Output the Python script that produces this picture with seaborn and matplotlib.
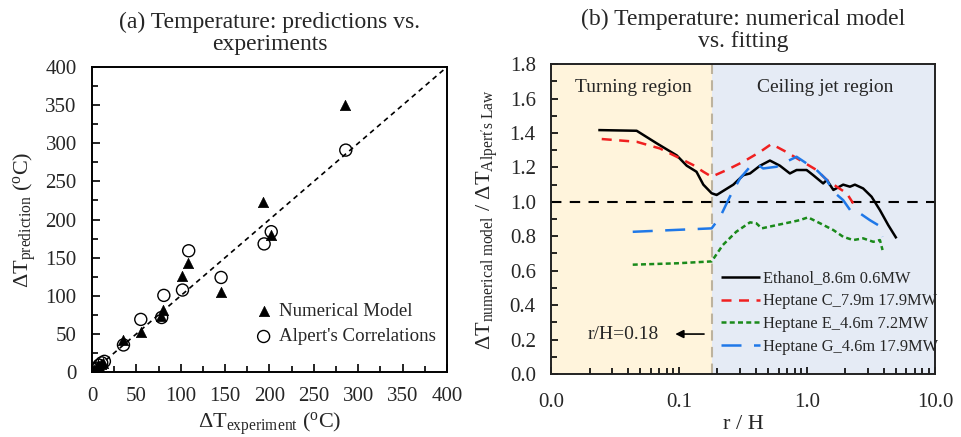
import numpy as np
import pandas as pd
import matplotlib
matplotlib.use("Agg")
import matplotlib.pyplot as plt
import seaborn as sns
from matplotlib.ticker import MultipleLocator, FixedLocator, NullFormatter, LogLocator

# ---- (a) predictions vs experiments ----
num_exp = [2, 4, 6, 8, 10, 12, 34.5, 55, 78, 80.5, 101.5, 108, 145.5, 193, 202, 285]
num_pred = [2, 4, 6, 8, 10, 12, 42, 53, 74, 81, 126, 142.5, 105, 223, 179.5, 350]
alp_exp = [3, 5, 8, 11, 14, 35.5, 55, 78.5, 81, 102, 109, 145.5, 194, 202, 286]
alp_pred = [3, 5, 9, 12, 14, 35.5, 69, 71.5, 100.5, 107.5, 159, 124, 168, 184, 291]

# ---- (b) numerical model vs fitting ----
eth_r = [0.0234, 0.0467, 0.067, 0.096, 0.115, 0.137, 0.155, 0.18, 0.197, 0.266, 0.318,
         0.359, 0.43, 0.514, 0.615, 0.736, 0.83, 0.995, 1.12, 1.34, 1.43, 1.61, 1.92,
         2.17, 2.37, 2.75, 3.2, 3.72, 4.32, 5.01]
eth_v = [1.417, 1.413, 1.34, 1.27, 1.21, 1.175, 1.10, 1.05, 1.04, 1.10, 1.155,
         1.165, 1.21, 1.24, 1.21, 1.165, 1.185, 1.185, 1.155, 1.107, 1.127, 1.069, 1.10,
         1.088, 1.10, 1.078, 1.03, 0.952, 0.865, 0.788]
hc_r = [0.0249, 0.0467, 0.071, 0.096, 0.129, 0.155, 0.18, 0.236, 0.318, 0.43, 0.528,
        0.69, 0.88, 1.19, 1.43, 1.71, 2.05, 2.30]
hc_v = [1.365, 1.349, 1.31, 1.262, 1.214, 1.175, 1.146, 1.185, 1.233, 1.29, 1.336,
        1.29, 1.243, 1.185, 1.127, 1.088, 1.049, 0.991]
he_r = [0.0435, 0.096, 0.18, 0.22, 0.28, 0.359, 0.403, 0.443, 0.58, 0.78, 0.88, 1.02,
        1.27, 1.61, 1.92, 2.30, 2.75, 3.30, 3.72, 3.9]
he_v = [0.635, 0.643, 0.654, 0.749, 0.826, 0.881, 0.875, 0.846, 0.865, 0.885, 0.894, 0.91,
        0.875, 0.836, 0.797, 0.778, 0.788, 0.768, 0.778, 0.72]
hg_r = [0.0435, 0.18, 0.21, 0.25, 0.30, 0.359, 0.403, 0.455, 0.58, 0.69, 0.83, 0.995,
        1.19, 1.43, 1.61, 1.92, 2.22, 2.60, 3.10, 3.60, 3.9]
hg_v = [0.826, 0.846, 0.913, 1.03, 1.136, 1.204, 1.223, 1.194, 1.204, 1.233, 1.262, 1.223,
        1.185, 1.127, 1.059, 1.01, 0.943, 0.933, 0.894, 0.865, 0.797]

series_names = ["Ethanol_8.6m 0.6MW", "Heptane C_7.9m 17.9MW",
                "Heptane E_4.6m 7.2MW", "Heptane G_4.6m 17.9MW"]
series_colors = ["black", "#f02020", "#1a8a1a", "#1f78e8"]
series_dashes = [(1, 0), (4, 3), (2, 1.3), (8, 5)]

sns.set_theme(style="white")
plt.rcParams["font.family"] = ["Liberation Serif", "DejaVu Serif"]
plt.rcParams["mathtext.fontset"] = "custom"
plt.rcParams["mathtext.rm"] = "Liberation Serif"
plt.rcParams["mathtext.it"] = "Liberation Serif:italic"

fig = plt.figure(figsize=(9.62, 4.37), dpi=100)
ax1 = fig.add_axes([0.0956, 0.1487, 0.369, 0.698])
ax2 = fig.add_axes([0.5728, 0.1442, 0.399, 0.709])

# panel (a)
df_a = pd.concat([
    pd.DataFrame({"exp": num_exp, "pred": num_pred, "src": "Numerical Model"}),
    pd.DataFrame({"exp": alp_exp, "pred": alp_pred, "src": "Alpert's Correlations"}),
])
ax1.plot([0, 400], [0, 400], color="black", lw=1.2, dashes=(3, 2.5), zorder=1)
sns.scatterplot(data=df_a[df_a.src == "Numerical Model"], x="exp", y="pred", ax=ax1,
                marker="^", s=55, color="black", edgecolor="black", linewidth=0.5,
                label="Numerical Model", zorder=3)
sns.scatterplot(data=df_a[df_a.src == "Alpert's Correlations"], x="exp", y="pred", ax=ax1,
                marker="o", s=75, facecolor="none", edgecolor="black", linewidth=1.0,
                label="Alpert's Correlations", zorder=3)
ax1.set_xlim(0, 400)
ax1.set_ylim(0, 400)
ax1.xaxis.set_major_locator(MultipleLocator(50))
ax1.yaxis.set_major_locator(MultipleLocator(50))
ax1.xaxis.set_minor_locator(MultipleLocator(25))
ax1.yaxis.set_minor_locator(MultipleLocator(25))
ax1.tick_params(which="both", direction="in", color="black", labelsize=15,
                bottom=True, left=True, top=False, right=False, pad=11)
ax1.tick_params(which="major", length=6, width=1.2)
ax1.tick_params(which="minor", length=4, width=1.2)
ax1.set_xlabel(r"$\Delta$T$_{\rm experiment}$ ($^{\rm o}$C)", fontsize=16, labelpad=3)
ax1.set_ylabel(r"$\Delta$T$_{\rm prediction}$ ($^{\rm o}$C)", fontsize=16, labelpad=5)
for sp in ax1.spines.values():
    sp.set_color("black")
    sp.set_linewidth(1.4)
ax1.legend(loc="lower right", bbox_to_anchor=(1.0, 0.05), frameon=False, fontsize=13.6,
           handletextpad=-0.2, labelspacing=0.45, borderaxespad=0.2)
ax1.set_title("(a) Temperature: predictions vs.\nexperiments", fontsize=17,
              linespacing=1.1, pad=12)

# panel (b)
rows = []
for name, r, v in zip(series_names, [eth_r, hc_r, he_r, hg_r], [eth_v, hc_v, he_v, hg_v]):
    rows.append(pd.DataFrame({"r": r, "v": v, "case": name}))
df_b = pd.concat(rows, ignore_index=True)

ax2.set_xscale("log")
ax2.axvspan(0.01, 0.18, color="#FFF4DC", zorder=0, lw=0)
ax2.axvspan(0.18, 10, color="#E5EBF5", zorder=0, lw=0)
ax2.axvline(0.18, color="#BDB39E", lw=1.5, dashes=(5, 3), zorder=1)
ax2.axhline(1.0, color="black", lw=1.5, dashes=(5, 4), zorder=2)
sns.lineplot(data=df_b, x="r", y="v", hue="case", style="case", ax=ax2,
             hue_order=series_names, style_order=series_names,
             palette=dict(zip(series_names, series_colors)),
             dashes=dict(zip(series_names, series_dashes)),
             sort=False, estimator=None, lw=1.8, zorder=3)
ax2.set_xlim(0.01, 10)
ax2.set_ylim(0, 1.8)
ax2.xaxis.set_major_locator(FixedLocator([0.01, 0.1, 1, 10]))
ax2.set_xticklabels(["0.0", "0.1", "1.0", "10.0"])
ax2.xaxis.set_minor_locator(LogLocator(base=10, subs=np.arange(2, 10)))
ax2.xaxis.set_minor_formatter(NullFormatter())
ax2.yaxis.set_major_locator(MultipleLocator(0.2))
ax2.yaxis.set_minor_locator(MultipleLocator(0.1))
ax2.yaxis.set_major_formatter(matplotlib.ticker.FormatStrFormatter("%.1f"))
ax2.tick_params(which="both", direction="in", color="black", labelsize=15,
                bottom=True, left=True, top=False, right=False, pad=11)
ax2.tick_params(axis="x", pad=14)
ax2.tick_params(which="major", length=5, width=1.2)
ax2.tick_params(which="minor", length=4, width=1.2)
ax2.set_xlabel("r / H", fontsize=16, labelpad=2)
ax2.set_ylabel(r"$\Delta$T$_{\rm numerical\ model}$ / $\Delta$T$_{\rm Alpert's\ Law}$",
               fontsize=16, labelpad=7)
for sp in ax2.spines.values():
    sp.set_color("#222222")
    sp.set_linewidth(1.4)
ax2.text(0.0437, 1.667, "Turning region", fontsize=14, ha="center", va="center")
ax2.text(1.38, 1.667, "Ceiling jet region", fontsize=14, ha="center", va="center")
ax2.annotate("", xy=(0.089, 0.232), xytext=(0.165, 0.232),
             arrowprops=dict(arrowstyle="-|>", color="black", lw=1.2, mutation_scale=12))
ax2.text(0.037, 0.232, "r/H=0.18", fontsize=14, ha="center", va="center")
ax2.legend(loc="lower left", bbox_to_anchor=(0.425, 0.04), frameon=False, fontsize=11.8,
           handlelength=2.4, handletextpad=0.15, labelspacing=0.42, borderaxespad=0.0)
ax2.set_title("(b) Temperature: numerical model\nvs. fitting", fontsize=17,
              linespacing=1.1, pad=12)

fig.savefig("out.png", dpi=100)
